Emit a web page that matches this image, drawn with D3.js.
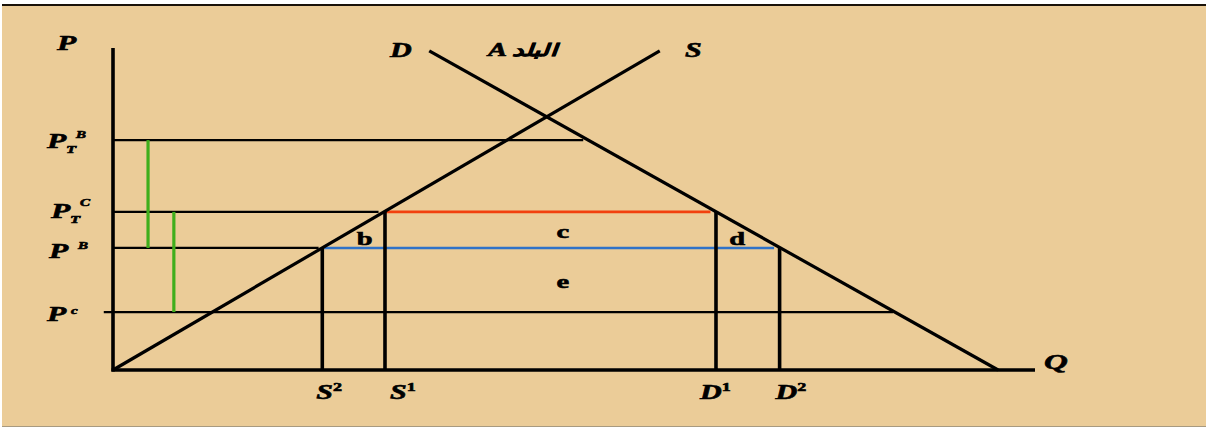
<!DOCTYPE html>
<html>
<head>
<meta charset="utf-8">
<script src="https://cdn.jsdelivr.net/npm/d3@7"></script>
<style>
  html, body { margin: 0; padding: 0; background: #fff; }
  svg { display: block; }
  .lab { font-family: "Liberation Serif", "Times New Roman", serif; font-weight: bold; font-style: italic; fill: #000; stroke: #000; stroke-width: 0.6; }
  .area { font-family: "Liberation Serif", "Times New Roman", serif; font-weight: bold; fill: #000; stroke: #000; stroke-width: 0.6; }
</style>
</head>
<body>
<script>
// ---------- data ----------
const supplyCurve = [[0, 0], [59.3, 99.1]];          // [Q, P]
const demandCurve = [[34.3, 99.1], [96.0, 0]];        // [Q, P]

const priceKeys    = ["PTB", "PTC", "PB", "Pc"];
const priceValues  = [71.4, 49.1, 37.9, 18.0];
const priceLineEnd = [51.0, 28.8, 22.3, 84.6];        // Q where each guide stops
const priceLineStart = [0, 0, 0, -1.0];

const quantityKeys   = ["S2", "S1", "D1", "D2"];
const quantityValues = [22.7, 29.5, 65.4, 72.3];
const quantityTop    = [37.9, 49.1, 49.1, 37.9];       // price where each drop-line starts

const redBand  = { from: 29.5, to: 64.8, p: 49.1 };
const blueBand = { from: 22.9, to: 71.7, p: 37.9 };
const greenBars = [ { q: 3.8, p0: 37.9, p1: 71.4 }, { q: 6.6, p0: 18.0, p1: 49.1 } ];

const areaLetters = ["b", "c", "d", "e"];
const areaQ = [27.3, 48.8, 67.7, 48.8];
const areaP = [40.6, 43.0, 40.6, 27.4];

// ---------- layout ----------
const W = 1206, H = 428;
const SX = 1.5; // horizontal stretch of the lettering in the source image
const svg = d3.select("body").append("svg").attr("width", W).attr("height", H);

svg.append("rect").attr("x", 0).attr("y", 0).attr("width", W).attr("height", H).attr("fill", "#ffffff");
svg.append("rect").attr("x", 2).attr("y", 4).attr("width", W - 2).attr("height", H - 6).attr("fill", "#ebcc98");
svg.append("line").attr("x1", 2).attr("x2", W).attr("y1", 5).attr("y2", 5).attr("stroke", "#1a1208").attr("stroke-width", 2);
svg.append("line").attr("x1", 2).attr("x2", W).attr("y1", 426.5).attr("y2", 426.5).attr("stroke", "#a89a80").attr("stroke-width", 1);

const x = d3.scaleLinear().domain([0, 100]).range([113, 1035]);
const y = d3.scaleLinear().domain([0, 100]).range([370, 48]);

const g = svg.append("g");

// horizontal price guides
priceValues.forEach((p, i) => {
  g.append("line")
    .attr("x1", x(priceLineStart[i])).attr("x2", x(priceLineEnd[i]))
    .attr("y1", y(p)).attr("y2", y(p))
    .attr("stroke", "#000").attr("stroke-width", 2.2);
});

// green bars
greenBars.forEach(b => {
  g.append("line").attr("x1", x(b.q)).attr("x2", x(b.q))
    .attr("y1", y(b.p0)).attr("y2", y(b.p1))
    .attr("stroke", "#3fae1c").attr("stroke-width", 3.2);
});

// coloured bands
g.append("line").attr("x1", x(redBand.from)).attr("x2", x(redBand.to))
  .attr("y1", y(redBand.p)).attr("y2", y(redBand.p))
  .attr("stroke", "#f2400e").attr("stroke-width", 2.6);
g.append("line").attr("x1", x(blueBand.from)).attr("x2", x(blueBand.to))
  .attr("y1", y(blueBand.p)).attr("y2", y(blueBand.p))
  .attr("stroke", "#2f72c8").attr("stroke-width", 2.6);

// vertical quantity drop-lines
quantityValues.forEach((q, i) => {
  g.append("line").attr("x1", x(q)).attr("x2", x(q))
    .attr("y1", y(quantityTop[i])).attr("y2", y(0))
    .attr("stroke", "#000").attr("stroke-width", 3.6);
});

// supply & demand
const lineGen = d3.line().x(d => x(d[0])).y(d => y(d[1]));
g.append("path").attr("d", lineGen(supplyCurve)).attr("fill", "none").attr("stroke", "#000").attr("stroke-width", 3.2);
g.append("path").attr("d", lineGen(demandCurve)).attr("fill", "none").attr("stroke", "#000").attr("stroke-width", 3.2);

// axes
g.append("line").attr("x1", x(0)).attr("x2", x(0)).attr("y1", y(100)).attr("y2", y(0) + 1.5)
  .attr("stroke", "#000").attr("stroke-width", 3.6);
g.append("line").attr("x1", x(0) - 1.5).attr("x2", x(100)).attr("y1", y(0)).attr("y2", y(0))
  .attr("stroke", "#000").attr("stroke-width", 3.4);

// helper: stretched label, (lx, ly) = left edge / baseline
function label(lx, ly, str, size, cls, anchor, italic) {
  const t = svg.append("text").attr("class", cls || "lab")
    .attr("transform", `translate(${lx},${ly}) scale(${SX},1)`)
    .attr("font-size", size)
    .attr("text-anchor", anchor || "start")
    .text(str);
  if (italic === false) t.attr("font-style", "normal");
  return t;
}

// axis titles
label(57, 50, "P", 21);
label(x(100) + 9, 369, "Q", 22);

// price labels
const priceSup = { PTB: "B", PTC: "C", PB: "B", Pc: "c" };
const priceSub = { PTB: "T", PTC: "T", PB: "", Pc: "" };
const pLabX   = { PTB: 47, PTC: 51, PB: 49, Pc: 47 };
const pBaseDy = { PTB: 8, PTC: 6, PB: 10, Pc: 9 };
const supDx   = { PTB: 29, PTC: 29, PB: 29, Pc: 24 };
const supDy   = { PTB: -10, PTC: -12, PB: -9, Pc: -7 };
priceKeys.forEach((k, i) => {
  const py = y(priceValues[i]);
  const base = py + pBaseDy[k];
  const px = pLabX[k];
  label(px, base, "P", 21);
  if (priceSub[k]) label(px + 19, base + 5, priceSub[k], 11);
  label(px + supDx[k], base + supDy[k], priceSup[k], 10);
});

// quantity labels
const qMain = { S2: "S", S1: "S", D1: "D", D2: "D" };
const qSup  = { S2: "2", S1: "1", D1: "1", D2: "2" };
const qDx   = { S2: -6, S1: 5, D1: -16, D2: -4 };
quantityKeys.forEach((k, i) => {
  const qx = x(quantityValues[i]) + qDx[k];
  const t = label(qx, 399, "", 20);
  t.append("tspan").text(qMain[k]);
  t.append("tspan").attr("dy", -8).attr("font-size", 12).attr("font-style", "normal").text(qSup[k]);
});

// curve labels
label(390, 57, "D", 20);
label(685, 57, "S", 20);
label(488, 56, "A", 19);
label(512, 56, "البلد", 17, "lab", "start", false);

// area letters
areaLetters.forEach((l, i) => {
  label(x(areaQ[i]), y(areaP[i]) + 6, l, 19, "area", "middle");
});
</script>
</body>
</html>
